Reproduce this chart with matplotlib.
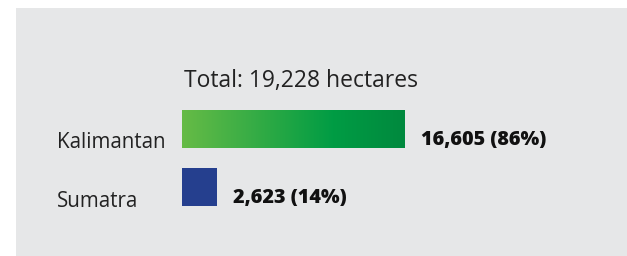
import numpy as np
import matplotlib.pyplot as plt
from matplotlib.colors import LinearSegmentedColormap
from matplotlib.patches import Rectangle

# data
regions = ['Kalimantan', 'Sumatra']
hectares = [16605, 2623]
shares = [86, 14]
total = 19228

W, H = 627, 256
fig = plt.figure(figsize=(W / 100, H / 100), dpi=100)
fig.patch.set_facecolor('white')

def fx(px):
    return px / W

def fy(py):
    return 1 - py / H

# grey panel (behind the axes)
fig.patches.append(Rectangle((fx(16), 0), 1 - fx(16), fy(8), transform=fig.transFigure,
                             facecolor='#e6e7e8', edgecolor='none', zorder=-5))

# bar axes: x 182..405 px covers 0..max value, y 100..216 px
ax = fig.add_axes([fx(182), fy(216), fx(405) - fx(182), fy(100) - fy(216)])
ax.set_xlim(0, max(hectares))
ax.set_ylim(1.5, -0.5)
ax.axis('off')

bar_h = 0.655
ypos = np.arange(len(regions))
bars = ax.barh(ypos, hectares, height=bar_h, color=['none', '#253f8e'])

# gradient fill for the Kalimantan bar
green = LinearSegmentedColormap.from_list(
    'grn', [(0, '#66bb46'), (0.68, '#009c44'), (1, '#00893e')])
b = bars[0]
grad = np.linspace(0, 1, 256).reshape(1, -1)
ax.imshow(grad, cmap=green, aspect='auto',
          extent=[b.get_x(), b.get_x() + b.get_width(), b.get_y() + b.get_height(), b.get_y()],
          zorder=2)
ax.set_xlim(0, max(hectares))
ax.set_ylim(1.5, -0.5)

txt = dict(family=['Open Sans', 'DejaVu Sans'])
fig.text(fx(184), fy(87), f'Total: {total:,} hectares', fontsize=16.5, color='#222222',
         va='baseline', **txt)

label_base = [148, 207]
for i, name in enumerate(regions):
    fig.text(fx(57), fy(label_base[i]), name, fontsize=14.8, color='#222222',
             va='baseline', **txt)

value_base = [145, 203]
for i, (v, s) in enumerate(zip(hectares, shares)):
    x_end = ax.transData.transform((v, 0))[0] / W
    fig.text(x_end + fx(16), fy(value_base[i]), f'{v:,} ({s}%)', fontsize=14.2,
             fontweight=800, color='#111111', va='baseline', **txt)

fig.savefig('out.png', dpi=100, facecolor='white')
